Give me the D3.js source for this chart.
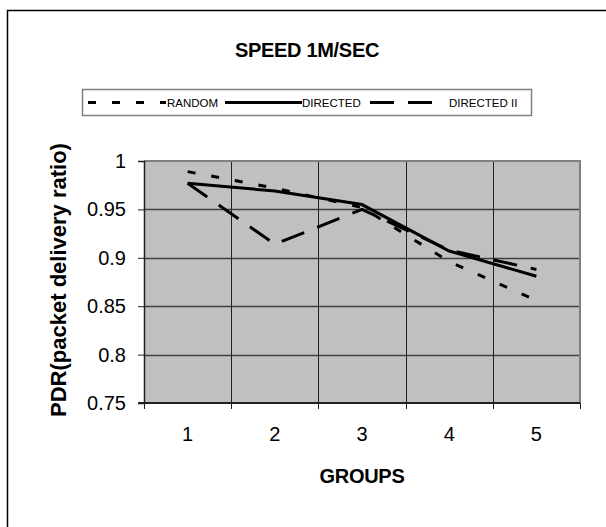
<!DOCTYPE html>
<html>
<head>
<meta charset="utf-8">
<script src="https://cdn.jsdelivr.net/npm/d3@7/dist/d3.min.js"></script>
<style>
  html, body { margin: 0; padding: 0; background: #fff; }
  svg { display: block; font-family: "Liberation Sans", Arial, sans-serif; }
</style>
</head>
<body>
<svg id="chart" width="606" height="527"></svg>
<script>
// Groups along the x axis
const groups = [1, 2, 3, 4, 5];
// Packet delivery ratio per group, one array per routing scheme
const randomPdr    = [0.989, 0.972, 0.952, 0.896, 0.856];
const directedPdr  = [0.977, 0.969, 0.955, 0.907, 0.881];
const directed2Pdr = [0.977, 0.914, 0.950, 0.908, 0.888];
// Y axis ticks
const yTicks = [0.75, 0.8, 0.85, 0.9, 0.95, 1];

const series = [
  { name: "RANDOM",      values: randomPdr,    dash: "8,16" },
  { name: "DIRECTED",    values: directedPdr,  dash: null },
  { name: "DIRECTED II", values: directed2Pdr, dash: "24,14" }
];

const svg = d3.select("#chart");

// Outer chart frame
svg.append("rect")
  .attr("x", 7.5).attr("y", 10.5)
  .attr("width", 700).attr("height", 700)
  .attr("fill", "none").attr("stroke", "#000").attr("stroke-width", 1.5);

const plot = { left: 144, right: 580, top: 161, bottom: 403 };

const x = d3.scaleBand().domain(groups).range([plot.left, plot.right]).padding(0);
const y = d3.scaleLinear().domain([0.75, 1]).range([plot.bottom, plot.top]);

// Plot area background
svg.append("rect")
  .attr("x", plot.left).attr("y", plot.top)
  .attr("width", plot.right - plot.left).attr("height", plot.bottom - plot.top)
  .attr("fill", "#c0c0c0");

// Horizontal gridlines
svg.append("g").selectAll("line")
  .data(yTicks.filter(t => t > 0.75 && t < 1))
  .join("line")
  .attr("x1", plot.left).attr("x2", plot.right)
  .attr("y1", d => Math.round(y(d)) + 0.5).attr("y2", d => Math.round(y(d)) + 0.5)
  .attr("stroke", "#404040").attr("stroke-width", 1.3);

// Vertical gridlines at group boundaries
svg.append("g").selectAll("line")
  .data(groups.slice(1))
  .join("line")
  .attr("x1", d => Math.round(x(d)) + 0.5).attr("x2", d => Math.round(x(d)) + 0.5)
  .attr("y1", plot.top).attr("y2", plot.bottom)
  .attr("stroke", "#202020").attr("stroke-width", 1);

// Top and right plot border
svg.append("path")
  .attr("d", `M${plot.left},${plot.top} H${plot.right} V${plot.bottom}`)
  .attr("fill", "none").attr("stroke", "#808080").attr("stroke-width", 2);

// Y axis
const yAxis = svg.append("g")
  .attr("transform", `translate(${plot.left},0)`)
  .call(d3.axisLeft(y).tickValues(yTicks).tickSize(6).tickPadding(12)
    .tickFormat(d => d3.format("")(+d.toFixed(2))));
yAxis.select(".domain").attr("stroke", "#202020").attr("stroke-width", 1.5);
yAxis.selectAll(".tick line").attr("stroke", "#202020");
yAxis.selectAll(".tick text")
  .attr("font-size", 20).attr("fill", "#000")
  .attr("font-family", "Liberation Sans, Arial, sans-serif");

// X axis: ticks at group boundaries, labels at group centres
const xAxisG = svg.append("g").attr("transform", `translate(0,${plot.bottom})`);
xAxisG.append("line")
  .attr("x1", plot.left - 6).attr("x2", plot.right)
  .attr("stroke", "#202020").attr("stroke-width", 2);
xAxisG.selectAll(".bt")
  .data(groups.concat([null]))
  .join("line")
  .attr("class", "bt")
  .attr("x1", (d, i) => Math.round(plot.left + i * x.bandwidth()) + 0.5)
  .attr("x2", (d, i) => Math.round(plot.left + i * x.bandwidth()) + 0.5)
  .attr("y1", 0).attr("y2", 6)
  .attr("stroke", "#202020");
xAxisG.selectAll("text")
  .data(groups)
  .join("text")
  .attr("x", d => x(d) + x.bandwidth() / 2)
  .attr("y", 38)
  .attr("text-anchor", "middle")
  .attr("font-size", 20)
  .text(d => d);

// Series lines
const line = d3.line()
  .x((d, i) => x(groups[i]) + x.bandwidth() / 2)
  .y(d => y(d));

svg.append("g").selectAll("path")
  .data(series)
  .join("path")
  .attr("d", d => line(d.values))
  .attr("fill", "none")
  .attr("stroke", "#000")
  .attr("stroke-width", 3)
  .attr("stroke-dasharray", d => d.dash)
  .attr("stroke-linejoin", "miter");

// Title
svg.append("text")
  .attr("x", 307).attr("y", 57)
  .attr("text-anchor", "middle")
  .attr("font-size", 20).attr("font-weight", "bold")
  .attr("letter-spacing", -0.3)
  .text("SPEED 1M/SEC");

// Axis titles
svg.append("text")
  .attr("x", 362).attr("y", 483)
  .attr("text-anchor", "middle")
  .attr("font-size", 20).attr("font-weight", "bold")
  .attr("letter-spacing", -0.3)
  .text("GROUPS");

svg.append("text")
  .attr("transform", "translate(66,280) rotate(-90)")
  .attr("text-anchor", "middle")
  .attr("font-size", 22).attr("font-weight", "bold")
  .text("PDR(packet delivery ratio)");

// Legend
const legend = svg.append("g");
legend.append("rect")
  .attr("x", 82.5).attr("y", 89.5)
  .attr("width", 449).attr("height", 26)
  .attr("fill", "#fff").attr("stroke", "#808080").attr("stroke-width", 1.5);

const legendItems = [
  { s: series[0], x1: 88,  x2: 166, tx: 167 },
  { s: series[1], x1: 225, x2: 302, tx: 302 },
  { s: series[2], x1: 370, x2: 446, tx: 449 }
];
legend.selectAll("line")
  .data(legendItems)
  .join("line")
  .attr("x1", d => d.x1).attr("x2", d => d.x2)
  .attr("y1", 102.5).attr("y2", 102.5)
  .attr("stroke", "#000").attr("stroke-width", 3)
  .attr("stroke-dasharray", d => d.s.dash);
legend.selectAll("text")
  .data(legendItems)
  .join("text")
  .attr("x", d => d.tx).attr("y", 106.5)
  .attr("font-size", 11.5)
  .text(d => d.s.name);
</script>
</body>
</html>
